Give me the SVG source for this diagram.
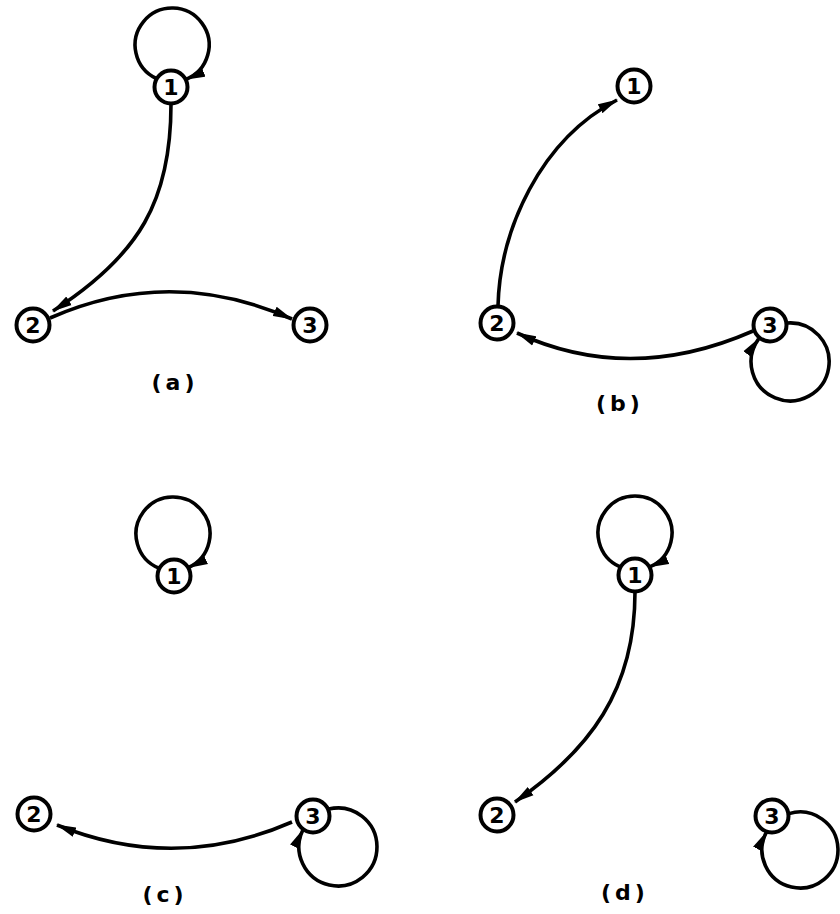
<svg xmlns="http://www.w3.org/2000/svg" width="840" height="914" viewBox="0 0 840 914">
<style>
.e{fill:none;stroke:#000;stroke-width:3.6;marker-end:url(#ah)}
.n circle{fill:#fff;stroke:#000;stroke-width:4}
.n text{font-family:"DejaVu Sans","Liberation Sans",sans-serif;font-size:22px;font-weight:bold;text-anchor:middle;fill:#000}
.lbl{font-family:"DejaVu Sans","Liberation Sans",sans-serif;font-size:22px;font-weight:bold;text-anchor:middle;fill:#000;letter-spacing:4px}
</style>
<defs>
<marker id="ah" markerUnits="userSpaceOnUse" markerWidth="20" markerHeight="11" refX="19" refY="5.5" orient="auto" viewBox="0 0 20 11">
<path d="M0,0.5 L20,5.5 L0,10.5 Z" fill="#000"/>
</marker>
</defs>
<rect width="840" height="914" fill="#fff"/>
<g id="connectors">
<!-- (a) -->
<path class="e" d="M156.3,78.5 A37,37 0 1,1 186.1,79.3"/>
<path class="e" d="M171,104 C171,200 140,255 53,311"/>
<path class="e" d="M50,318 Q170,265 292,319"/>
<!-- (b) -->
<path class="e" d="M498,306 C500,230 540,140 617,100"/>
<path class="e" d="M753,331 Q630,385 517,333"/>
<path class="e" d="M787,323 A39,39 0 1,1 758.6,338.9"/>
<!-- (c) -->
<path class="e" d="M158.9,568.2 A37,37 0 1,1 188.7,567.5"/>
<path class="e" d="M292,822 Q175,873 57,825"/>
<path class="e" d="M328.6,809.1 A39,39 0 1,1 303,829.7"/>
<!-- (d) -->
<path class="e" d="M620.1,566.9 A37,37 0 1,1 649.9,566.9"/>
<path class="e" d="M635,592 C635,690 590,750 515,802"/>
<path class="e" d="M789,813.6 A38,38 0 1,1 766.4,832.2"/>
</g>
<g id="a1" class="n"><circle cx="171" cy="87" r="16.5"/><text x="171" y="95">1</text></g>
<g id="a2" class="n"><circle cx="33" cy="325" r="16.5"/><text x="33" y="333">2</text></g>
<g id="a3" class="n"><circle cx="310" cy="325" r="16.5"/><text x="310" y="333">3</text></g>
<g id="b1" class="n"><circle cx="634" cy="86" r="16.5"/><text x="634" y="94">1</text></g>
<g id="b2" class="n"><circle cx="497" cy="323" r="16.5"/><text x="497" y="331">2</text></g>
<g id="b3" class="n"><circle cx="770" cy="325" r="16.5"/><text x="770" y="333">3</text></g>
<g id="c1" class="n"><circle cx="174" cy="576" r="16.5"/><text x="174" y="584">1</text></g>
<g id="c2" class="n"><circle cx="34" cy="814" r="16.5"/><text x="34" y="822">2</text></g>
<g id="c3" class="n"><circle cx="313" cy="816" r="16.5"/><text x="313" y="824">3</text></g>
<g id="d1" class="n"><circle cx="635" cy="575" r="16.5"/><text x="635" y="583">1</text></g>
<g id="d2" class="n"><circle cx="497" cy="815" r="16.5"/><text x="497" y="823">2</text></g>
<g id="d3" class="n"><circle cx="772" cy="816" r="16.5"/><text x="772" y="824">3</text></g>
<g id="labels">
<text class="lbl" x="175" y="390">(a)</text>
<text class="lbl" x="620" y="411">(b)</text>
<text class="lbl" x="165" y="902">(c)</text>
<text class="lbl" x="625" y="900">(d)</text>
</g>
</svg>
